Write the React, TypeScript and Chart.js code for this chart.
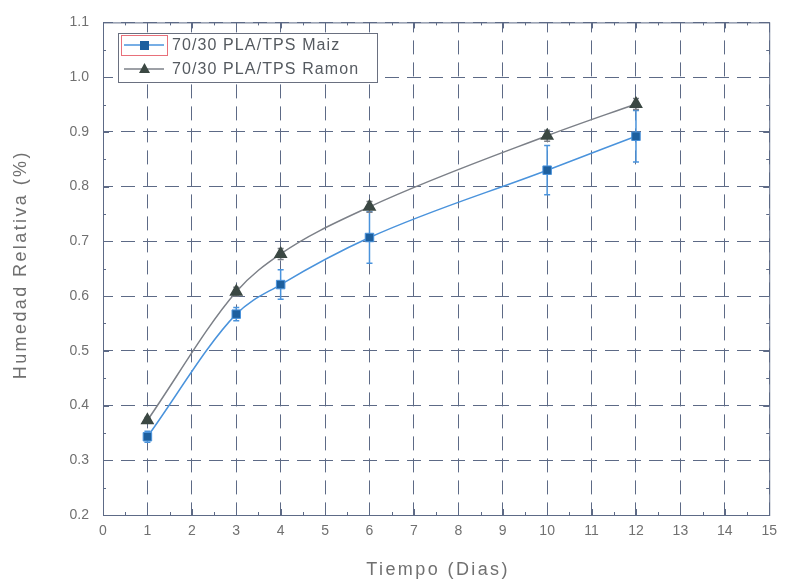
import React, { useEffect, useRef } from "react";
import { Chart, registerables } from "chart.js";

Chart.register(...registerables);

const days = [1, 3, 4, 6, 10, 12];
const maizValues = [0.343, 0.567, 0.621, 0.707, 0.830, 0.892];
const maizErrors = [0.01, 0.012, 0.027, 0.047, 0.045, 0.047];
const ramonValues = [0.373, 0.608, 0.677, 0.763, 0.893, 0.951];
const ramonErrors = [0.005, 0.008, 0.01, 0.01, 0.01, 0.01];
const seriesLabels = ["70/30 PLA/TPS Maiz", "70/30 PLA/TPS Ramon"];
const xTitle = "Tiempo (Dias)";
const yTitle = "Humedad Relativa (%)";

const MAIZ_LINE = "#4a93dc";
const MAIZ_MARK = "#1d5f9e";
const RAMON_LINE = "#7c8088";
const RAMON_MARK = "#3b4843";
const GRID = "#5d6a86";
const TEXT = "#707070";
const FONT = "'Liberation Sans', Arial, sans-serif";

const errorBarPlugin = {
  id: "errbars",
  beforeDatasetsDraw(chart: any) {
    const ctx = chart.ctx;
    const ys = chart.scales.y;
    const xs = chart.scales.x;
    const sets = [
      { vals: maizValues, errs: maizErrors, color: MAIZ_LINE },
      { vals: ramonValues, errs: ramonErrors, color: RAMON_LINE },
    ];
    ctx.save();
    sets.forEach((s) => {
      ctx.strokeStyle = s.color;
      ctx.lineWidth = 1.5;
      days.forEach((d, i) => {
        const x = xs.getPixelForValue(d);
        const y1 = ys.getPixelForValue(s.vals[i] - s.errs[i]);
        const y2 = ys.getPixelForValue(s.vals[i] + s.errs[i]);
        ctx.beginPath();
        ctx.moveTo(x, y1);
        ctx.lineTo(x, y2);
        ctx.moveTo(x - 3, y1);
        ctx.lineTo(x + 3, y1);
        ctx.moveTo(x - 3, y2);
        ctx.lineTo(x + 3, y2);
        ctx.stroke();
      });
    });
    ctx.restore();
  },
};

const framePlugin = {
  id: "frame",
  afterDraw(chart: any) {
    const ctx = chart.ctx;
    const a = chart.chartArea;
    const xs = chart.scales.x;
    const ys = chart.scales.y;
    ctx.save();
    ctx.strokeStyle = GRID;
    ctx.lineWidth = 1;
    ctx.setLineDash([]);
    ctx.strokeRect(a.left + 0.5, a.top + 0.5, a.right - a.left, a.bottom - a.top);
    // ticks inward
    ctx.beginPath();
    for (let v = 0; v <= 15; v += 0.5) {
      const x = Math.round(xs.getPixelForValue(v)) + 0.5;
      const len = Number.isInteger(v) ? 6 : 3;
      ctx.moveTo(x, a.bottom);
      ctx.lineTo(x, a.bottom - len);
      ctx.moveTo(x, a.top);
      ctx.lineTo(x, a.top + len);
    }
    for (let k = 0; k <= 18; k++) {
      const v = 0.2 + k * 0.05;
      const y = Math.round(ys.getPixelForValue(v)) + 0.5;
      const len = k % 2 === 0 ? 6 : 3;
      ctx.moveTo(a.left, y);
      ctx.lineTo(a.left + len, y);
      ctx.moveTo(a.right, y);
      ctx.lineTo(a.right - len, y);
    }
    ctx.stroke();

    // axis titles
    ctx.fillStyle = TEXT;
    ctx.font = `18px ${FONT}`;
    (ctx as any).letterSpacing = "2.4px";
    ctx.textAlign = "center";
    ctx.textBaseline = "middle";
    ctx.fillText(xTitle, (a.left + a.right) / 2 + 2, 570);
    ctx.save();
    ctx.translate(21, (a.top + a.bottom) / 2 - 4);
    ctx.rotate(-Math.PI / 2);
    ctx.fillText(yTitle, 0, 0);
    ctx.restore();
    (ctx as any).letterSpacing = "0px";
    ctx.textAlign = "left";

    // legend
    const lx = 118, ly = 33, lw = 259, lh = 49;
    ctx.fillStyle = "#ffffff";
    ctx.fillRect(lx, ly, lw, lh);
    ctx.strokeStyle = "#6a7080";
    ctx.strokeRect(lx + 0.5, ly + 0.5, lw, lh);
    const rows = [
      { y: 45, line: MAIZ_LINE, mark: MAIZ_MARK, shape: "rect" },
      { y: 69, line: RAMON_LINE, mark: RAMON_MARK, shape: "triangle" },
    ];
    ctx.font = `16px ${FONT}`;
    ctx.textBaseline = "middle";
    rows.forEach((r, i) => {
      ctx.strokeStyle = r.line;
      ctx.lineWidth = 1.5;
      ctx.beginPath();
      ctx.moveTo(124, r.y);
      ctx.lineTo(164, r.y);
      ctx.stroke();
      ctx.fillStyle = r.mark;
      if (r.shape === "rect") {
        ctx.fillRect(140, r.y - 4, 9, 9);
      } else {
        ctx.beginPath();
        ctx.moveTo(144.5, r.y - 6);
        ctx.lineTo(150, r.y + 4);
        ctx.lineTo(139, r.y + 4);
        ctx.closePath();
        ctx.fill();
      }
      ctx.fillStyle = "#555a60";
      (ctx as any).letterSpacing = "1.1px";
      ctx.fillText(seriesLabels[i], 172, r.y + 1);
      (ctx as any).letterSpacing = "0px";
    });
    ctx.strokeStyle = "#e8707a";
    ctx.lineWidth = 1;
    ctx.strokeRect(121.5, 35.5, 46, 20);
    ctx.restore();
  },
};

export default function App() {
  const ref = useRef<HTMLCanvasElement>(null);
  useEffect(() => {
    document.body.style.margin = "0";
    const chart = new Chart(ref.current!, {
      type: "line",
      data: {
        datasets: [
          {
            label: seriesLabels[0],
            data: days.map((d, i) => ({ x: d, y: maizValues[i] })),
            borderColor: MAIZ_LINE,
            backgroundColor: MAIZ_MARK,
            pointBackgroundColor: MAIZ_MARK,
            pointBorderColor: MAIZ_LINE,
            pointBorderWidth: 1,
            pointStyle: "rect",
            pointRadius: 6,
            borderWidth: 1.5,
            cubicInterpolationMode: "monotone",
          },
          {
            label: seriesLabels[1],
            data: days.map((d, i) => ({ x: d, y: ramonValues[i] })),
            borderColor: RAMON_LINE,
            backgroundColor: RAMON_MARK,
            pointBackgroundColor: RAMON_MARK,
            pointBorderColor: RAMON_MARK,
            pointStyle: "triangle",
            pointRadius: 6.5,
            borderWidth: 1.5,
            cubicInterpolationMode: "monotone",
          },
        ],
      },
      options: {
        animation: false,
        responsive: false,
        layout: { padding: { top: 19, right: 14, left: 0, bottom: 0 } },
        plugins: {
          legend: { display: false },
          tooltip: { enabled: false },
        },
        scales: {
          x: {
            type: "linear",
            min: 0,
            max: 15,
            ticks: {
              stepSize: 1,
              color: TEXT,
              font: { size: 14, family: FONT },
              padding: 8,
            },
            grid: {
              color: GRID,
              lineWidth: 1,
              drawTicks: false,
            },
            border: { display: false, dash: [14, 8], dashOffset: 4 },
            afterFit: (s: any) => {
              s.height = 69;
            },
          },
          y: {
            min: 0.2,
            max: 1.1,
            ticks: {
              stepSize: 0.1,
              color: TEXT,
              font: { size: 14, family: FONT },
              padding: 14,
              callback: (v: any) => Number(v).toFixed(1),
            },
            grid: {
              color: GRID,
              lineWidth: 1,
              drawTicks: false,
            },
            border: { display: false, dash: [14, 8], dashOffset: 4 },
            afterFit: (s: any) => {
              s.width = 103;
            },
          },
        },
      },
      plugins: [errorBarPlugin, framePlugin],
    });
    return () => chart.destroy();
  }, []);
  return <canvas ref={ref} width={785} height={584} style={{ display: "block" }} />;
}
